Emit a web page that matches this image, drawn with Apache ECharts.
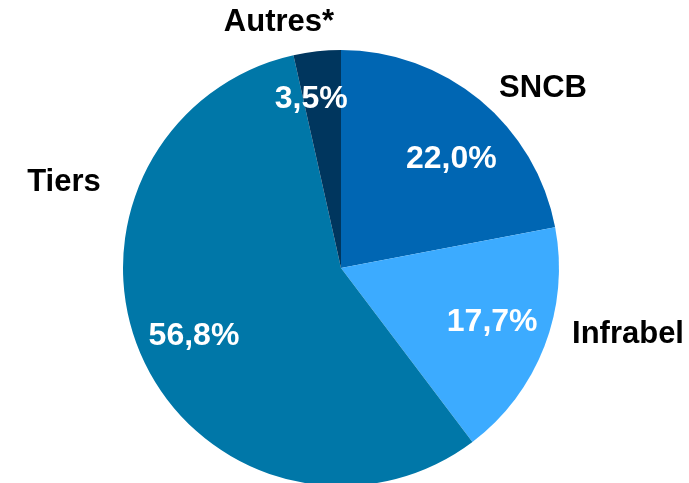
<!DOCTYPE html>
<html>
<head>
<meta charset="utf-8">
<script src="https://cdn.jsdelivr.net/npm/echarts@6/dist/echarts.min.js"></script>
<style>
  html, body { margin: 0; padding: 0; background: #fff; }
  #chart { width: 689px; height: 483px; }
</style>
</head>
<body>
<div id="chart"></div>
<script>
const categories = ["SNCB", "Infrabel", "Tiers", "Autres*"];
const shares = [22.0, 17.7, 56.8, 3.5];
const colors = ["#0066b3", "#3cabff", "#0077a8", "#00365e"];
// where the category names sit (the source places them by hand)
const namePos = [[543, 88], [628, 334], [64, 182], [279, 22]];
// small nudges of the percentages away from the ring middle
const pctShift = [[7, 16], [0, -4], [0, 0], [-12, -8]];

const fmt = v => v.toFixed(1).replace(".", ",") + "%";
const data = categories.map((name, i) => ({
  name: name,
  value: shares[i],
  itemStyle: { color: colors[i] }
}));

const chart = echarts.init(document.getElementById("chart"));
chart.setOption({
  animation: false,
  series: [
    {
      type: "pie",
      center: [341, 268],
      radius: [0, 218],
      startAngle: 90,
      clockwise: true,
      data: data,
      itemStyle: { borderWidth: 0 },
      label: {
        show: true,
        position: "outside",
        formatter: "{b}",
        overflow: "none",
        color: "#000",
        fontFamily: "Liberation Sans, Arial, sans-serif",
        fontWeight: "bold",
        fontSize: 31
      },
      labelLine: { show: false },
      labelLayout: p => ({
        x: namePos[p.dataIndex][0],
        y: namePos[p.dataIndex][1],
        align: "center",
        verticalAlign: "middle"
      })
    },
    {
      type: "pie",
      center: [341, 268],
      radius: [100, 218],
      startAngle: 90,
      clockwise: true,
      silent: true,
      data: data.map(d => ({ name: d.name, value: d.value })),
      itemStyle: { color: "transparent", borderWidth: 0 },
      label: {
        show: true,
        position: "inside",
        formatter: p => fmt(p.value),
        overflow: "none",
        color: "#fff",
        fontFamily: "Liberation Sans, Arial, sans-serif",
        fontWeight: "bold",
        fontSize: 32
      },
      labelLine: { show: false },
      labelLayout: p => ({
        dx: pctShift[p.dataIndex][0],
        dy: pctShift[p.dataIndex][1]
      })
    }
  ]
});
</script>
</body>
</html>
